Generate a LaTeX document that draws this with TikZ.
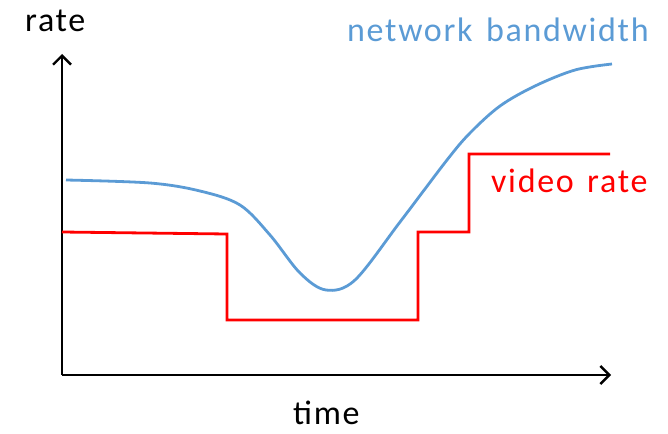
\documentclass[tikz,border=0pt]{standalone}
\usepackage{fontspec}
\setmainfont{Carlito}[LetterSpace=5]
\usetikzlibrary{arrows.meta}
\definecolor{bw}{RGB}{91,155,213}
\begin{document}
\begin{tikzpicture}[x=1pt,y=-1pt,
  axis/.style={line width=2.4pt,-{Straight Barb[length=9pt,width=18pt,line width=2.4pt]}},
  lbl/.style={inner sep=0pt,anchor=base west,font=\fontsize{34}{40}\selectfont},
  bwline/.style={bw,line width=2.8pt},
  vrline/.style={red,line width=2.8pt}]
\useasboundingbox (0,0) rectangle (668,433);
\coordinate (o) at (62,375);
\coordinate (ytop) at (62,54);
\coordinate (xend) at (611,375);
\draw[axis] (o) -- (ytop);
\draw[axis] (o) -- (xend);
\node[lbl] (rate) at (25,32) {rate};
\node[lbl] (time) at (293,424) {time};
\node[lbl,text=bw] (nb) at (347,42) {network\hspace{4pt} bandwidth};
\node[lbl,text=red] (vr) at (491,192) {video\hspace{4pt} rate};
\draw[vrline] (62,232) -- (227,234) -- (227,320) -- (418,320) -- (418,232) -- (469,232) -- (469,154) -- (610,154);
\draw[bwline] plot[smooth,tension=0.55] coordinates {(66,180) (150,183) (200,191) (240,205) (270,235) (300,273) (326,290) (355,280) (400,222) (447,160) (470,133) (500,106) (535,86) (575,70) (612,64)};
\end{tikzpicture}
\end{document}
